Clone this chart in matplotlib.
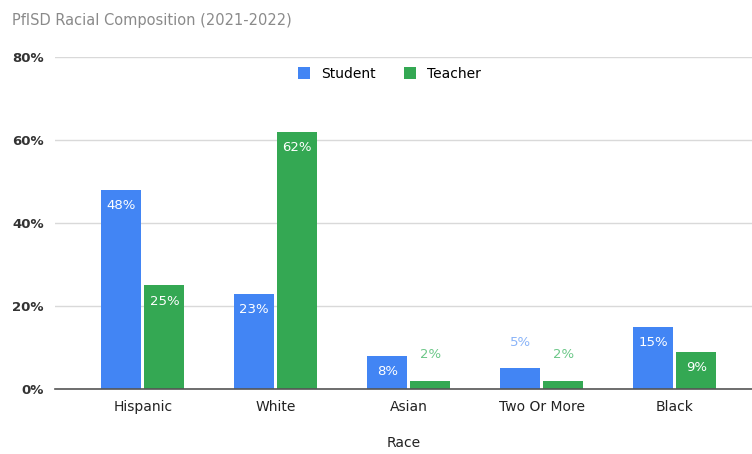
import matplotlib.pyplot as plt
import numpy as np

categories = ["Hispanic", "White", "Asian", "Two Or More", "Black"]
student = [48, 23, 8, 5, 15]
teacher = [25, 62, 2, 2, 9]
yticks = [0, 20, 40, 60, 80]
ytick_labels = ["0%", "20%", "40%", "60%", "80%"]

BLUE = "#4285F4"
GREEN = "#34A853"
LBLUE = "#8AB4F8"
LGREEN = "#6CC788"

fig = plt.figure(figsize=(7.52, 4.54), dpi=100)
ax = fig.add_axes([55/752, 65/454, 1 - 55/752, 332/454])

x = np.arange(len(categories))
w = 0.30
off = 0.162
bs = ax.bar(x - off, student, w, color=BLUE, label="Student", zorder=3)
bt = ax.bar(x + off, teacher, w, color=GREEN, label="Teacher", zorder=3)

ax.set_ylim(0, 80)
ax.set_xlim(-0.66, 4.58)
ax.set_yticks(yticks)
ax.set_yticklabels(ytick_labels, fontsize=9.5, color="#333333", fontweight="semibold")
ax.set_xticks(x)
ax.set_xticklabels(categories, fontsize=10, color="#222222")
ax.tick_params(axis="both", length=0)
ax.tick_params(axis="x", pad=8)
ax.tick_params(axis="y", pad=8)
ax.grid(axis="y", color="#d9d9d9", linewidth=1, zorder=0)
for s in ["top", "right", "left"]:
    ax.spines[s].set_visible(False)
ax.spines["bottom"].set_color("#555555")
ax.spines["bottom"].set_linewidth(1.2)
ax.spines["bottom"].set_zorder(4)

ppd = 332 / 80.0  # pixels per data unit

def label(bars, vals, outer_col):
    for b, v in zip(bars, vals):
        cx = b.get_x() + b.get_width() / 2
        if v * ppd >= 28:
            ax.annotate(f"{v}%", (cx, v), xytext=(0, -16), textcoords="offset pixels",
                        ha="center", va="center", color="white", fontsize=9.5, zorder=5)
        else:
            ax.annotate(f"{v}%", (cx, v), xytext=(0, 26), textcoords="offset pixels",
                        ha="center", va="center", color=outer_col, fontsize=9.5, zorder=5)

label(bs, student, LBLUE)
label(bt, teacher, LGREEN)

ax.set_xlabel("Race", fontsize=10, color="#222222", labelpad=16)

leg = ax.legend(loc="center", bbox_to_anchor=(0.48, 0.949), ncol=2, frameon=False,
                fontsize=10, handlelength=0.9, handleheight=0.9, columnspacing=2.0, handletextpad=0.8)

fig.text(12/752, 1 - 20/454, "PfISD Racial Composition (2021-2022)", fontsize=10.5,
         color="#8a8a8a", ha="left", va="center")

fig.savefig("out.png", dpi=100)
